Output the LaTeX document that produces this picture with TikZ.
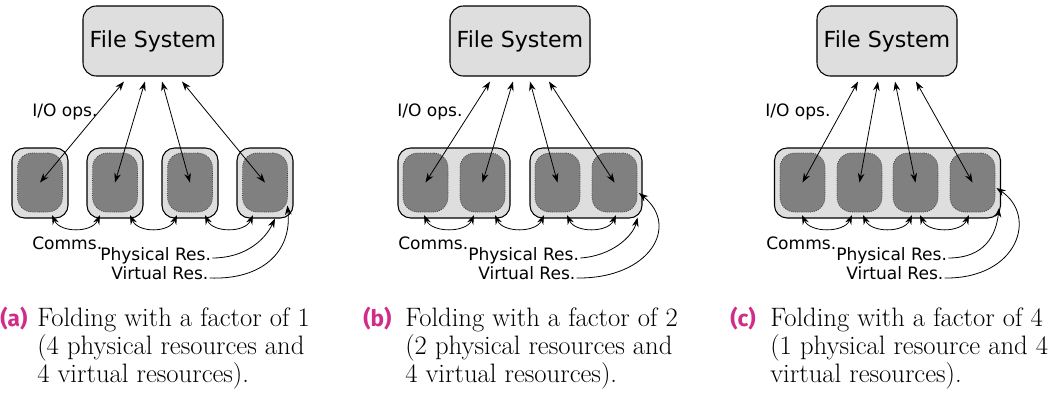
\documentclass[tikz,border=0pt]{standalone}
\usepackage{fontspec}
\newfontfamily\dvs{DejaVu Sans}
\newfontfamily\tagfont{Fira Sans}
\usetikzlibrary{arrows.meta,calc}
\definecolor{fsgray}{RGB}{222,222,222}
\definecolor{boxgray}{RGB}{222,222,222}
\definecolor{coregray}{RGB}{128,128,128}
\definecolor{capmag}{RGB}{207,45,137}
\begin{document}
\begin{tikzpicture}[x=0.75pt,y=-0.75pt,
 fs/.style={draw, line width=0.8pt, fill=fsgray, rounded corners=10pt, minimum width=105pt, minimum height=52.5pt, inner sep=0pt, font=\dvs\fontsize{16.6}{19}\selectfont},
 hostbox/.style={draw, line width=0.8pt, fill=boxgray, rounded corners=9.5pt, minimum height=52.5pt, inner sep=0pt},
 core/.style={draw=black!75, densely dotted, line width=0.6pt, fill=coregray, rounded corners=11pt, minimum width=33.75pt, minimum height=44.25pt, inner sep=0pt},
 lbl/.style={font=\dvs\fontsize{12.8}{14}\selectfont, inner sep=0pt, anchor=base west},
 conn/.style={line width=0.6pt, {Stealth[length=7pt,width=5pt]}-{Stealth[length=7pt,width=5pt]}},
 tipped/.style={line width=0.6pt, -{Stealth[length=7pt,width=5pt]}},
 captxt/.style={font=\fontsize{20}{24}\selectfont, inner sep=0pt, anchor=base west},
 captag/.style={font=\tagfont\bfseries\fontsize{17}{20}\selectfont, text=capmag, inner sep=0pt, anchor=base west}
]
\useasboundingbox (0,0) rectangle (1054,394);

% ---------------- panel (a)
\node[fs] (fsa) at (153,41) {File System};
\foreach \i/\x in {1/40,2/115,3/190,4/265}{
  \node[hostbox, minimum width=42pt] (ha\i) at (\x,183) {};
  \node[core] (ca\i) at (\x,182.5) {};
}
\foreach \i/\d in {1/-29,2/-8,3/9,4/29}{
  \coordinate (ta\i) at ($(fsa.south)+(\d,5)$);
  \draw[conn] (ta\i) -- (ca\i.center);
}
\coordinate (ma1) at ($(ca1.center)+(12,32.5)$);
\coordinate (mb1) at ($(ca2.center)+(-15,32.5)$);
\coordinate (ma2) at ($(ca2.center)+(15,32.5)$);
\coordinate (mb2) at ($(ca3.center)+(-13,32.5)$);
\coordinate (ma3) at ($(ca3.center)+(15,32.5)$);
\coordinate (mb3) at ($(ca4.center)+(-12,32.5)$);
\foreach \i in {1,2,3}{
  \draw[conn] (ma\i) .. controls ($(ma\i)+(8,18)$) and ($(mb\i)+(-8,18)$) .. (mb\i);
}
\node[lbl] (ioa) at (32,116) {I/O ops.};
\node[lbl] (coa) at (32,249) {Comms.};
\node[lbl] (pa) at (100,260) {Physical Res.};
\node[lbl] (va) at (111,279) {Virtual Res.};
\coordinate (pta) at ($(ha4.south)+(10,0)$);
\coordinate (vta) at ($(ca4.east)+(-0.5,23)$);
\draw[tipped] ($(pa.base east)+(1,-2)$) .. controls (245,258) and (265,240) .. (pta);
\draw[tipped] ($(va.base east)+(1,-1)$) .. controls (262,280) and (292,252) .. (vta);

% ---------------- panel (b)
\node[fs] (fsb) at (520,41) {File System};
\node[hostbox, minimum width=84pt] (hb1) at (454,183) {};
\node[hostbox, minimum width=84pt] (hb2) at (586,183) {};
\foreach \i/\x in {1/425.5,2/482.5,3/557.5,4/614.5}{
  \node[core] (cb\i) at (\x,182.5) {};
}
\foreach \i/\d in {1/-30,2/-7,3/10,4/29}{
  \coordinate (tb\i) at ($(fsb.south)+(\d,5)$);
  \draw[conn] (tb\i) -- (cb\i.center);
}
\coordinate (na1) at ($(cb1.center)+(-1.5,32.5)$);
\coordinate (nb1) at ($(cb2.center)+(-8.5,32.5)$);
\coordinate (na2) at ($(cb2.center)+(12.5,32.5)$);
\coordinate (nb2) at ($(cb3.center)+(-13.5,32.5)$);
\coordinate (na3) at ($(cb3.center)+(9.5,32.5)$);
\coordinate (nb3) at ($(cb4.center)+(1.5,32.5)$);
\foreach \i in {1,2,3}{
  \draw[conn] (na\i) .. controls ($(na\i)+(8,18)$) and ($(nb\i)+(-8,18)$) .. (nb\i);
}
\node[lbl] (iob) at (397,116) {I/O ops.};
\node[lbl] (cob) at (398,249) {Comms.};
\node[lbl] (pb) at (468,260) {Physical Res.};
\node[lbl] (vb) at (478,279) {Virtual Res.};
\coordinate (ptb) at ($(hb2.south east)+(-5,-1)$);
\coordinate (vtb) at ($(cb4.east)+(1.5,10.5)$);
\draw[tipped] ($(pb.base east)+(1,-2)$) .. controls (612,256) and (633,236) .. (ptb);
\draw[tipped] ($(vb.base east)+(1,-1)$) .. controls (650,279) and (680,226) .. (vtb);

% ---------------- panel (c)
\node[fs] (fsc) at (887,41) {File System};
\node[hostbox, minimum width=169.5pt] (hc1) at (887.5,183) {};
\foreach \i/\x in {1/802.5,2/859.5,3/915.5,4/972.5}{
  \node[core] (cc\i) at (\x,182.5) {};
}
\foreach \i/\d in {1/-29,2/-9,3/8,4/29}{
  \coordinate (tc\i) at ($(fsc.south)+(\d,5)$);
  \draw[conn] (tc\i) -- (cc\i.center);
}
\coordinate (oa1) at ($(cc1.center)+(-0.5,32.5)$);
\coordinate (ob1) at ($(cc2.center)+(-7.5,32.5)$);
\coordinate (oa2) at ($(cc2.center)+(3.5,32.5)$);
\coordinate (ob2) at ($(cc3.center)+(-3.5,32.5)$);
\coordinate (oa3) at ($(cc3.center)+(4.5,32.5)$);
\coordinate (ob3) at ($(cc4.center)+(-3.5,32.5)$);
\foreach \i in {1,2,3}{
  \draw[conn] (oa\i) .. controls ($(oa\i)+(8,18)$) and ($(ob\i)+(-8,18)$) .. (ob\i);
}
\node[lbl] (ioc) at (765,116) {I/O ops.};
\node[lbl] (coc) at (766,249) {Comms.};
\node[lbl] (pc) at (836,260) {Physical Res.};
\node[lbl] (vc) at (846,279) {Virtual Res.};
\coordinate (ptc) at ($(hc1.east)+(-2,25)$);
\coordinate (vtc) at ($(cc4.east)+(1,5.5)$);
\draw[tipped] ($(pc.base east)+(1,-2)$) .. controls (985,258) and (996,235) .. (ptc);
\draw[tipped] ($(vc.base east)+(1,-1)$) .. controls (1018,279) and (1038,216) .. (vtc);

% ---------------- captions
\node[captag] (tga) at (0,326) {(a)};
\node[captxt] (ca1l) at (37,326) {Folding with a factor of 1};
\node[captxt] (ca2l) at (37,354) {(4 physical resources and};
\node[captxt] (ca3l) at (37,382) {4 virtual resources).};

\node[captag] (tgb) at (363,326) {(b)};
\node[captxt] (cb1l) at (405,326) {Folding with a factor of 2};
\node[captxt] (cb2l) at (405,354) {(2 physical resources and};
\node[captxt] (cb3l) at (405,382) {4 virtual resources).};

\node[captag] (tgc) at (730,326) {(c)};
\node[captxt] (cc1l) at (770,326) {Folding with a factor of 4};
\node[captxt] (cc2l) at (770,354) {(1 physical resource and 4};
\node[captxt] (cc3l) at (770,382) {virtual resources).};
\end{tikzpicture}
\end{document}
